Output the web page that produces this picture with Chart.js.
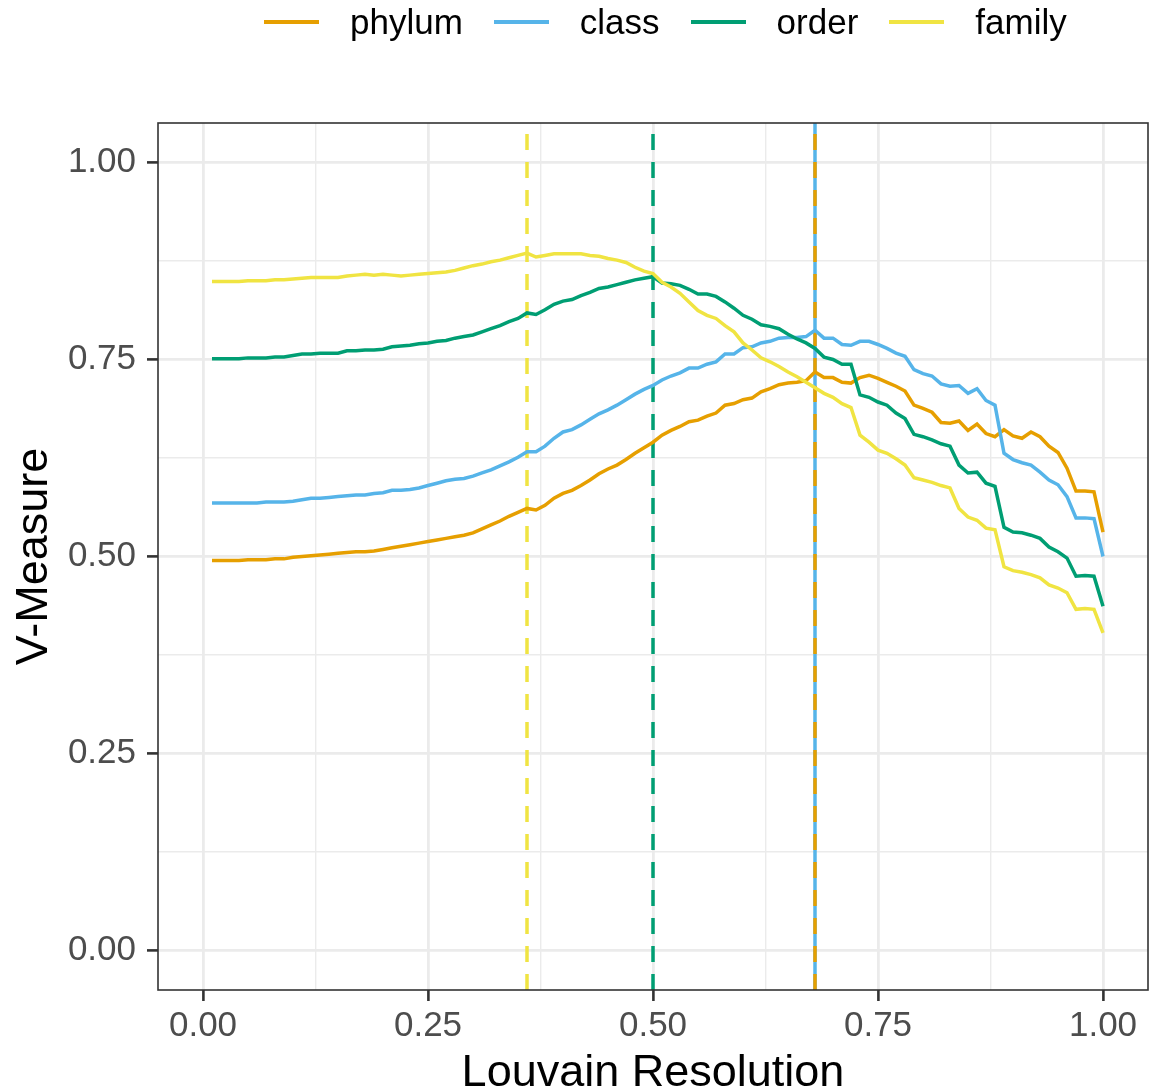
<!DOCTYPE html>
<html>
<head>
<meta charset="utf-8">
<script src="https://cdn.jsdelivr.net/npm/chart.js@4.4.1/dist/chart.umd.min.js"></script>
<style>
body { margin: 0; background: #fff; }
#wrap { position: relative; width: 1150px; height: 1092px; }
#legend {
  position: absolute; left: 264px; top: 0; height: 44px;
  display: flex; align-items: center;
  font-family: "Liberation Sans", Arial, sans-serif; font-size: 35px; color: #000;
}
.item { display: flex; align-items: center; margin-right: 31px; }
.swatch { width: 55px; height: 3.5px; margin-right: 31px; }
</style>
</head>
<body>
<div id="wrap">
  <div id="legend"></div>
  <canvas id="chart"></canvas>
</div>
<script>
// Louvain resolution steps 0.01 .. 1.00
const resolution = [
0.01,0.02,0.03,0.04,0.05,0.06,0.07,0.08,0.09,0.10,
0.11,0.12,0.13,0.14,0.15,0.16,0.17,0.18,0.19,0.20,
0.21,0.22,0.23,0.24,0.25,0.26,0.27,0.28,0.29,0.30,
0.31,0.32,0.33,0.34,0.35,0.36,0.37,0.38,0.39,0.40,
0.41,0.42,0.43,0.44,0.45,0.46,0.47,0.48,0.49,0.50,
0.51,0.52,0.53,0.54,0.55,0.56,0.57,0.58,0.59,0.60,
0.61,0.62,0.63,0.64,0.65,0.66,0.67,0.68,0.69,0.70,
0.71,0.72,0.73,0.74,0.75,0.76,0.77,0.78,0.79,0.80,
0.81,0.82,0.83,0.84,0.85,0.86,0.87,0.88,0.89,0.90,
0.91,0.92,0.93,0.94,0.95,0.96,0.97,0.98,0.99,1.00];

const phylum = [
.495,.495,.495,.495,.496,.496,.496,.497,.497,.499,
.500,.501,.502,.503,.504,.505,.506,.506,.507,.509,
.511,.513,.515,.517,.519,.521,.523,.525,.527,.530,
.535,.540,.545,.551,.556,.561,.559,.565,.574,.580,
.584,.590,.597,.605,.611,.616,.623,.631,.638,.645,
.654,.660,.665,.671,.673,.678,.682,.692,.694,.699,
.701,.709,.713,.718,.720,.721,.723,.734,.727,.727,
.721,.720,.727,.730,.726,.721,.716,.710,.692,.688,
.683,.670,.669,.672,.660,.668,.656,.652,.661,.653,
.650,.658,.652,.640,.632,.612,.583,.583,.582,.531];

const klass = [
.568,.568,.568,.568,.568,.568,.569,.569,.569,.570,
.572,.574,.574,.575,.576,.577,.578,.578,.580,.581,
.584,.584,.585,.587,.590,.593,.596,.598,.599,.602,
.606,.610,.615,.620,.626,.633,.633,.640,.650,.658,
.661,.667,.674,.681,.686,.692,.699,.706,.712,.717,
.724,.729,.733,.739,.739,.744,.747,.757,.757,.765,
.766,.771,.773,.777,.778,.778,.779,.787,.777,.777,
.769,.768,.773,.773,.769,.764,.758,.754,.737,.732,
.729,.719,.716,.717,.707,.713,.698,.692,.631,.623,
.619,.616,.607,.597,.591,.576,.549,.549,.548,.500];

const order = [
.751,.751,.751,.751,.752,.752,.752,.753,.753,.755,
.757,.757,.758,.758,.758,.761,.761,.762,.762,.763,
.766,.767,.768,.770,.771,.773,.774,.777,.779,.781,
.785,.789,.793,.798,.802,.809,.807,.813,.820,.824,
.826,.831,.835,.840,.842,.845,.848,.851,.853,.855,
.847,.846,.844,.839,.833,.833,.830,.823,.815,.806,
.801,.794,.792,.789,.782,.776,.771,.764,.753,.750,
.744,.744,.705,.702,.696,.692,.682,.675,.655,.652,
.648,.643,.640,.616,.606,.607,.593,.589,.537,.531,
.530,.527,.523,.512,.506,.498,.475,.476,.475,.437];

const family = [
.849,.849,.849,.849,.850,.850,.850,.851,.851,.852,
.853,.854,.854,.854,.854,.856,.857,.858,.857,.858,
.857,.856,.857,.858,.859,.860,.861,.863,.866,.869,
.871,.874,.876,.879,.882,.885,.880,.882,.884,.884,
.884,.884,.882,.881,.878,.876,.873,.867,.862,.859,
.848,.842,.834,.823,.812,.806,.802,.793,.785,.771,
.762,.752,.747,.741,.734,.728,.721,.714,.707,.702,
.694,.689,.654,.645,.635,.631,.624,.616,.600,.597,
.594,.590,.587,.561,.550,.546,.536,.534,.487,.482,
.480,.477,.473,.464,.460,.454,.433,.434,.433,.403];

// best resolution per rank (dashed vertical lines)
const rankNames = ["phylum", "class", "order", "family"];
const rankColors = ["#E69F00", "#56B4E9", "#009E73", "#F0E442"];
const bestResolution = [0.68, 0.68, 0.50, 0.36];

const tickValues = [0, 0.125, 0.25, 0.375, 0.5, 0.625, 0.75, 0.875, 1];
const Y_MIN = -0.05, Y_MAX = 1.05;
const X_MIN = -0.05, X_MAX = 1.05;

const seriesValues = [phylum, klass, order, family];

const isMajor = (v) => Math.abs(v * 4 - Math.round(v * 4)) < 1e-6;

// HTML legend
const legendEl = document.getElementById("legend");
rankNames.forEach((name, i) => {
  const item = document.createElement("div");
  item.className = "item";
  item.innerHTML = `<span class="swatch" style="background:${rankColors[i]}"></span><span>${name}</span>`;
  legendEl.appendChild(item);
});

const datasets = [];

// lines on top: family drawn last
seriesValues.forEach((vals, i) => {
  datasets.push({
    label: rankNames[i],
    data: resolution.map((r, j) => ({ x: r, y: vals[j] })),
    borderColor: rankColors[i],
    borderWidth: 3.5,
    pointRadius: 0,
    tension: 0,
    order: 10 - i
  });
});

// vertical lines, under the curves
bestResolution.forEach((r, i) => {
  datasets.push({
    label: rankNames[i] + " best",
    data: [{ x: r, y: Y_MIN }, { x: r, y: Y_MAX }],
    borderColor: rankColors[i],
    borderWidth: 3.5,
    borderDash: i === 1 ? [] : [16, 12],
    pointRadius: 0,
    order: i === 1 ? 40 : 30 - i
  });
});

const panelBorder = {
  id: "panelBorder",
  afterDatasetsDraw(chart) {
    const { ctx, chartArea } = chart;
    ctx.save();
    ctx.strokeStyle = "#333333";
    ctx.lineWidth = 1.6;
    ctx.strokeRect(chartArea.left, chartArea.top, chartArea.right - chartArea.left, chartArea.bottom - chartArea.top);
    ctx.restore();
  }
};

const gridOpts = {
  color: "#EBEBEB",
  lineWidth: (c) => isMajor(c.tick.value) ? 2.8 : 1.4,
  tickColor: (c) => isMajor(c.tick.value) ? "#333333" : "rgba(0,0,0,0)",
  tickLength: 11,
  tickWidth: 2.6,
  drawTicks: true
};

const tickFont = { family: "Liberation Sans", size: 35, lineHeight: 1.2 };

new Chart(document.getElementById("chart"), {
  type: "line",
  data: { datasets },
  options: {
    responsive: true,
    maintainAspectRatio: false,
    animation: false,
    layout: { padding: { top: 123, right: 2, left: 0, bottom: 0 } },
    plugins: { legend: { display: false }, tooltip: { enabled: false } },
    scales: {
      x: {
        type: "linear",
        min: X_MIN,
        max: X_MAX,
        afterBuildTicks: (s) => { s.ticks = tickValues.map((value) => ({ value })); },
        afterFit: (s) => { s.height = 102; },
        border: { display: false },
        grid: gridOpts,
        ticks: {
          autoSkip: false,
          maxRotation: 0,
          padding: 4,
          color: "#4D4D4D",
          font: tickFont,
          callback: (v) => isMajor(v) ? v.toFixed(2) : ""
        },
        title: {
          display: true,
          text: "Louvain Resolution",
          color: "#000",
          font: { family: "Liberation Sans", size: 45, lineHeight: 0.8 },
          padding: { top: 0, bottom: 0 }
        }
      },
      y: {
        type: "linear",
        min: Y_MIN,
        max: Y_MAX,
        afterBuildTicks: (s) => { s.ticks = tickValues.map((value) => ({ value })); },
        afterFit: (s) => { s.width = 158; },
        border: { display: false },
        grid: gridOpts,
        ticks: {
          autoSkip: false,
          padding: 11,
          color: "#4D4D4D",
          font: tickFont,
          callback: (v) => isMajor(v) ? v.toFixed(2) : ""
        },
        title: {
          display: true,
          text: "V-Measure",
          color: "#000",
          font: { family: "Liberation Sans", size: 45, lineHeight: 1.2 },
          padding: { top: 8, bottom: 0 }
        }
      }
    }
  },
  plugins: [panelBorder]
});
</script>
</body>
</html>
